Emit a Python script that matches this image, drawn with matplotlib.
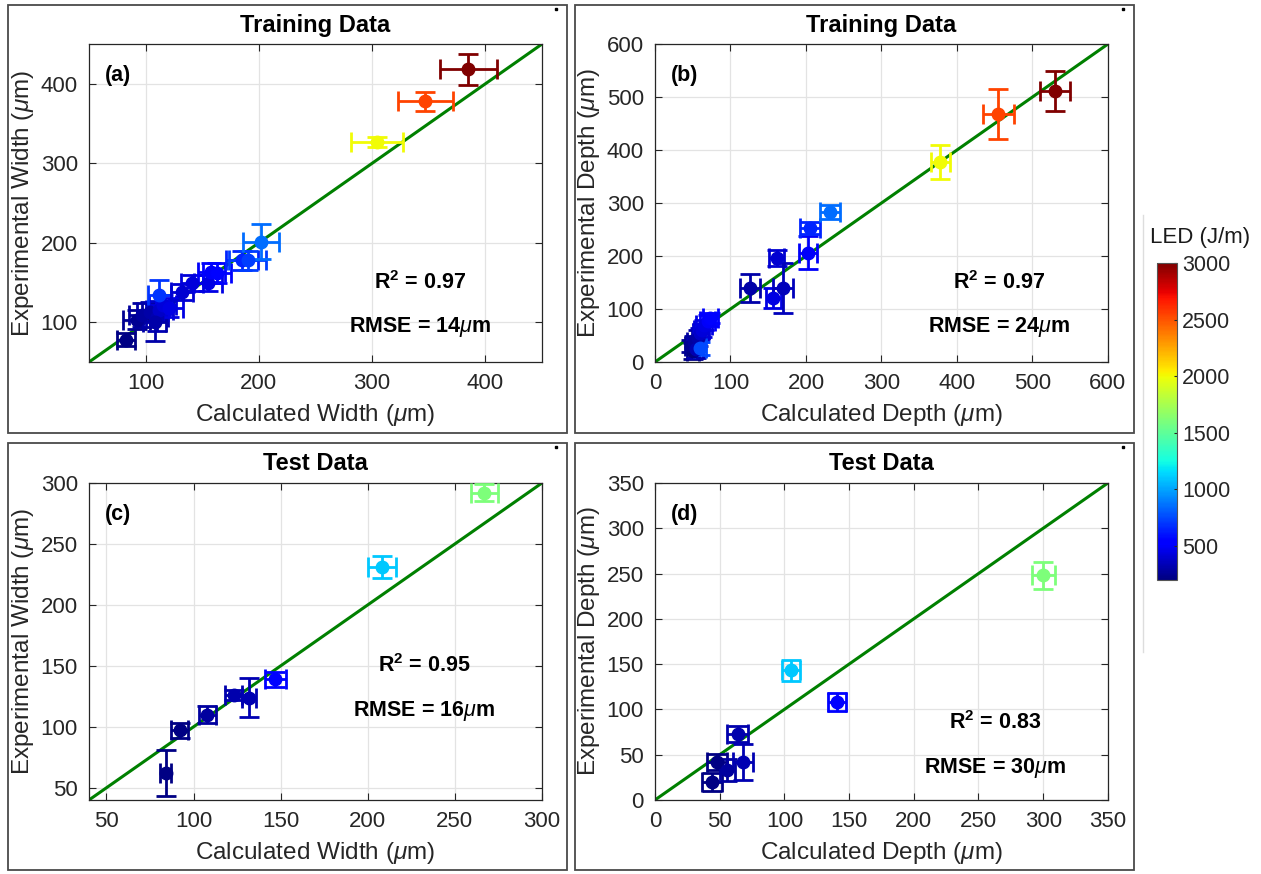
import matplotlib
matplotlib.use("Agg")
import matplotlib.pyplot as plt
import numpy as np
from matplotlib.patches import Rectangle
from matplotlib.lines import Line2D

plt.rcParams['font.family'] = ['Liberation Sans', 'DejaVu Sans']
plt.rcParams['mathtext.fontset'] = 'custom'
plt.rcParams['mathtext.rm'] = 'Liberation Sans'
plt.rcParams['mathtext.it'] = 'Liberation Sans:italic'
plt.rcParams['mathtext.bf'] = 'Liberation Sans:bold'

# training set, width (um)
wa_calc = [83, 92, 97, 104, 110, 112, 108, 115, 112, 121, 132, 141, 155, 158, 163, 185, 190, 202, 304, 347, 385]
wa_exp = [78, 103, 109, 113, 107, 115, 100, 122, 134, 118, 138, 149, 149, 163, 162, 178, 178, 201, 327, 378, 418]
wa_cerr = [8, 12, 12, 12, 10, 12, 10, 12, 10, 12, 10, 10, 12, 12, 12, 14, 16, 16, 23, 24, 25]
wa_eerr = [8, 12, 15, 12, 18, 12, 23, 12, 19, 12, 10, 10, 10, 12, 12, 12, 12, 22, 6, 12, 20]
wa_led = [220, 250, 280, 300, 330, 380, 300, 420, 700, 450, 400, 420, 450, 500, 560, 650, 720, 850, 2000, 2550, 3000]

# training set, depth (um)
da_calc = [50, 48, 52, 55, 57, 60, 62, 60, 65, 70, 73, 126, 157, 161, 170, 203, 205, 232, 378, 455, 530]
da_exp = [20, 30, 38, 25, 45, 55, 60, 26, 70, 78, 83, 140, 121, 196, 140, 206, 253, 283, 378, 468, 512]
da_cerr = [8, 8, 10, 8, 8, 10, 10, 8, 10, 10, 10, 13, 10, 10, 13, 12, 13, 13, 13, 20, 20]
da_eerr = [15, 12, 12, 18, 15, 10, 12, 12, 10, 10, 10, 27, 19, 15, 47, 31, 11, 13, 32, 47, 38]
da_led = [220, 250, 280, 330, 300, 380, 420, 750, 450, 500, 560, 300, 450, 400, 350, 500, 650, 850, 2000, 2550, 3000]

# test set, width (um)
wt_calc = [84, 92, 108, 123, 132, 147, 208, 267]
wt_exp = [62, 97, 110, 126, 124, 139, 231, 292]
wt_cerr = [3, 5, 5, 5, 4, 6, 8, 8]
wt_eerr = [19, 6, 7, 4, 16, 6, 9, 7]
wt_led = [220, 220, 280, 320, 330, 550, 1100, 1600]

# test set, depth (um)
dt_calc = [44, 48, 56, 64, 68, 141, 105, 300]
dt_exp = [20, 42, 33, 73, 42, 108, 143, 248]
dt_cerr = [8, 8, 6, 8, 8, 7, 7, 9]
dt_eerr = [10, 9, 12, 9, 20, 10, 12, 15]
dt_led = [220, 220, 280, 320, 330, 550, 1100, 1600]

led_min, led_max = 200, 3000
cbar_ticks = [500, 1000, 1500, 2000, 2500, 3000]

panels = [
    dict(calc=wa_calc, exp=wa_exp, cerr=wa_cerr, eerr=wa_eerr, led=wa_led,
         lim=(50, 450), ticks=[100, 200, 300, 400], title='Training Data', tag='(a)',
         what='Width', r2='0.97', rmse='14', pos=[0.0706, 0.5858, 0.3592, 0.3638],
         r2xy=(0.73, 0.25), rmsexy=(0.73, 0.11)),
    dict(calc=da_calc, exp=da_exp, cerr=da_cerr, eerr=da_eerr, led=da_led,
         lim=(0, 600), ticks=[0, 100, 200, 300, 400, 500, 600], title='Training Data', tag='(b)',
         what='Depth', r2='0.97', rmse='24', pos=[0.5194, 0.5858, 0.3592, 0.3638],
         r2xy=(0.76, 0.25), rmsexy=(0.76, 0.11)),
    dict(calc=wt_calc, exp=wt_exp, cerr=wt_cerr, eerr=wt_eerr, led=wt_led,
         lim=(40, 300), ticks=[50, 100, 150, 200, 250, 300], title='Test Data', tag='(c)',
         what='Width', r2='0.95', rmse='16', pos=[0.0706, 0.0847, 0.3592, 0.3627],
         r2xy=(0.74, 0.425), rmsexy=(0.74, 0.28)),
    dict(calc=dt_calc, exp=dt_exp, cerr=dt_cerr, eerr=dt_eerr, led=dt_led,
         lim=(0, 350), ticks=[0, 50, 100, 150, 200, 250, 300, 350], title='Test Data', tag='(d)',
         what='Depth', r2='0.83', rmse='30', pos=[0.5194, 0.0847, 0.3592, 0.3627],
         r2xy=(0.75, 0.245), rmsexy=(0.75, 0.10)),
]

fig = plt.figure(figsize=(12.61, 8.74), dpi=100)
cmap = plt.cm.jet
norm = plt.Normalize(led_min, led_max)

# boxes round each panel
for (x0, y0, x1, y1) in [(8, 5, 567, 433), (575, 5, 1134, 433), (8, 443, 567, 870), (575, 443, 1134, 870)]:
    fig.patches.append(Rectangle((x0 / 1261, 1 - y1 / 874), (x1 - x0) / 1261, (y1 - y0) / 874,
                                 transform=fig.transFigure, fill=False, ec='#4a4a4a', lw=1.3))
    fig.lines.append(Line2D([(x1 - 11) / 1261], [1 - (y0 + 4) / 874], transform=fig.transFigure,
                            marker='s', ms=1.5, color='k', lw=0))

for p in panels:
    ax = fig.add_axes(p['pos'])
    lo, hi = p['lim']
    ax.plot([lo, hi], [lo, hi], color='#008000', lw=2.2, zorder=2)
    for x, y, xe, ye, e in zip(p['calc'], p['exp'], p['cerr'], p['eerr'], p['led']):
        c = cmap(norm(e))
        ax.errorbar(x, y, xerr=xe, yerr=ye, fmt='o', color=c, ms=9, elinewidth=2,
                    capsize=7.5, capthick=2, zorder=3)
    ax.set_xlim(lo, hi)
    ax.set_ylim(lo, hi)
    ax.set_xticks(p['ticks'])
    ax.set_yticks(p['ticks'])
    ax.grid(True, color='#e3e3e3', lw=0.9)
    ax.set_axisbelow(True)
    ax.tick_params(direction='in', top=True, right=True, labelsize=16, colors='#262626',
                   length=5, pad=8)
    for s in ax.spines.values():
        s.set_color('#262626')
        s.set_linewidth(0.9)
    ax.set_xlabel('Calculated %s ($\\mu$m)' % p['what'], fontsize=17.5, color='#262626', labelpad=6)
    ax.set_ylabel('Experimental %s ($\\mu$m)' % p['what'], fontsize=17.5, color='#262626', labelpad=3)
    ax.set_title(p['title'], fontsize=17, fontweight='bold', pad=9)
    ax.text(0.035, 0.90, p['tag'], transform=ax.transAxes, fontsize=15.5, fontweight='bold',
            va='center', ha='left')
    ax.text(*p['r2xy'], 'R$^{\\mathbf{2}}$ = %s' % p['r2'], transform=ax.transAxes, fontsize=15.5,
            fontweight='bold', ha='center', va='center')
    ax.text(*p['rmsexy'], 'RMSE = %s$\\mu$m' % p['rmse'], transform=ax.transAxes, fontsize=15.5,
            fontweight='bold', ha='center', va='center')

cax = fig.add_axes([0.9175, 0.3364, 0.0159, 0.3627])
sm = plt.cm.ScalarMappable(norm=norm, cmap=cmap)
cb = fig.colorbar(sm, cax=cax, ticks=cbar_ticks)
cb.outline.set_edgecolor('#555555')
cb.outline.set_linewidth(0.8)
cax.tick_params(labelsize=15.5, length=2, direction='in', colors='#262626')
fig.text(1200 / 1261, 1 - 238 / 874, 'LED (J/m)', fontsize=16, ha='center', va='center', color='#1a1a1a')
fig.lines.append(Line2D([1143 / 1261, 1143 / 1261], [1 - 215 / 874, 1 - 652 / 874],
                        transform=fig.transFigure, color='#dddddd', lw=1))

fig.savefig('out.png', dpi=100)
